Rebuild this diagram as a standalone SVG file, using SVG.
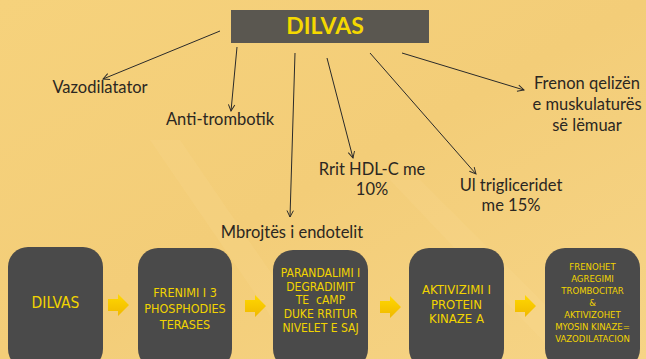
<svg xmlns="http://www.w3.org/2000/svg" width="646" height="359" viewBox="0 0 646 359">
<defs>
<linearGradient id="bg" x1="0" y1="0" x2="1" y2="1">
<stop offset="0" stop-color="#f6d27c"/>
<stop offset="0.5" stop-color="#f3cd78"/>
<stop offset="1" stop-color="#f6d486"/>
</linearGradient>
<linearGradient id="arr" x1="0" y1="0" x2="0" y2="1">
<stop offset="0" stop-color="#ffd800"/>
<stop offset="1" stop-color="#f0b800"/>
</linearGradient>
<marker id="ah" viewBox="0 0 10 10" refX="9" refY="5" markerWidth="8" markerHeight="8" orient="auto" markerUnits="userSpaceOnUse">
<path d="M1,1 L9,5 L1,9" fill="none" stroke="#2a2a2a" stroke-width="1.2"/>
</marker>
<path id="blk" d="M0,-6 L10,-6 L10,-11 L21,0 L10,11 L10,6 L0,6 Z"/>
</defs>
<style>
.lbl{font-family:"Lato","Open Sans",sans-serif;font-size:16.5px;fill:#2b2722;text-anchor:middle}
.box{fill:#4a4a4a}
.bt{font-family:"Liberation Sans Narrow","DejaVu Sans Condensed","Liberation Sans",sans-serif;fill:#f2d400;text-anchor:middle}
.con{stroke:#2a2a2a;stroke-width:1;fill:none;marker-end:url(#ah)}
.ya{fill:url(#arr)}
</style>
<rect width="646" height="359" fill="url(#bg)"/>
<path d="M180,140 L330,359 L300,359 L150,140 Z" fill="#f8dc98" opacity="0.2"/>
<path d="M420,180 L600,359 L560,359 L390,180 Z" fill="#f8dc98" opacity="0.2"/>

<g id="title">
<rect x="231" y="10" width="198" height="33" fill="#5a5750"/>
<text x="325" y="34" font-family="Lato,'Open Sans',sans-serif" font-weight="bold" font-size="23" fill="#f5d800" text-anchor="middle">DILVAS</text>
</g>

<g id="connectors">
<line class="con" x1="220" y1="31" x2="103" y2="79"/>
<line class="con" x1="237" y1="47" x2="231" y2="111"/>
<line class="con" x1="295" y1="53" x2="290" y2="217"/>
<line class="con" x1="327" y1="58" x2="353" y2="158"/>
<line class="con" x1="370" y1="53" x2="476" y2="174"/>
<line class="con" x1="402" y1="53" x2="524" y2="90"/>
</g>

<g id="vazodilatator"><text class="lbl" x="100" y="93">Vazodilatator</text></g>
<g id="antitrombotik"><text class="lbl" x="220" y="125">Anti-trombotik</text></g>
<g id="mbrojtes"><text class="lbl" x="292" y="238">Mbrojtës i endotelit</text></g>
<g id="hdl"><text class="lbl" x="372" y="175">Rrit HDL-C me</text><text class="lbl" x="372" y="195">10%</text></g>
<g id="trigliceridet"><text class="lbl" x="511" y="191">Ul trigliceridet</text><text class="lbl" x="511" y="211">me 15%</text></g>
<g id="frenon"><text class="lbl" x="587" y="89">Frenon qelizën</text><text class="lbl" x="587" y="110">e muskulaturës</text><text class="lbl" x="587" y="131">së lëmuar</text></g>

<g id="box1">
<rect class="box" x="8" y="247" width="95" height="122" rx="20"/>
<text class="bt" x="55.5" y="308" font-size="15.5">DILVAS</text>
</g>
<g id="box2">
<rect class="box" x="138" y="248" width="94" height="121" rx="20"/>
<text class="bt" font-size="12.5"><tspan x="185" y="297">FRENIMI I 3</tspan><tspan x="185" y="313">PHOSPHODIES</tspan><tspan x="185" y="329">TERASES</tspan></text>
</g>
<g id="box3">
<rect class="box" x="273" y="250" width="95" height="119" rx="20"/>
<text class="bt" font-size="12"><tspan x="320.5" y="277">PARANDALIMI I</tspan><tspan x="320.5" y="291">DEGRADIMIT</tspan><tspan x="320.5" y="304" xml:space="preserve">TE  cAMP</tspan><tspan x="320.5" y="318">DUKE RRITUR</tspan><tspan x="320.5" y="332">NIVELET E SAJ</tspan></text>
</g>
<g id="box4">
<rect class="box" x="409" y="248" width="95" height="121" rx="20"/>
<text class="bt" font-size="13"><tspan x="456.5" y="294">AKTIVIZIMI I</tspan><tspan x="456.5" y="309">PROTEIN</tspan><tspan x="456.5" y="323">KINAZE A</tspan></text>
</g>
<g id="box5">
<rect class="box" x="545" y="248" width="95" height="121" rx="20"/>
<text class="bt" font-size="9.5"><tspan x="592.5" y="270">FRENOHET</tspan><tspan x="592.5" y="282">AGREGIMI</tspan><tspan x="592.5" y="294">TROMBOCITAR</tspan><tspan x="592.5" y="306">&amp;</tspan><tspan x="592.5" y="318">AKTIVIZOHET</tspan><tspan x="592.5" y="330">MYOSIN KINAZE=</tspan><tspan x="592.5" y="342">VAZODILATACION</tspan></text>
</g>

<g id="flow-arrows">
<use href="#blk" class="ya" x="108" y="305"/>
<use href="#blk" class="ya" x="245" y="306"/>
<use href="#blk" class="ya" x="380" y="307"/>
<use href="#blk" class="ya" x="515" y="306"/>
</g>
</svg>
